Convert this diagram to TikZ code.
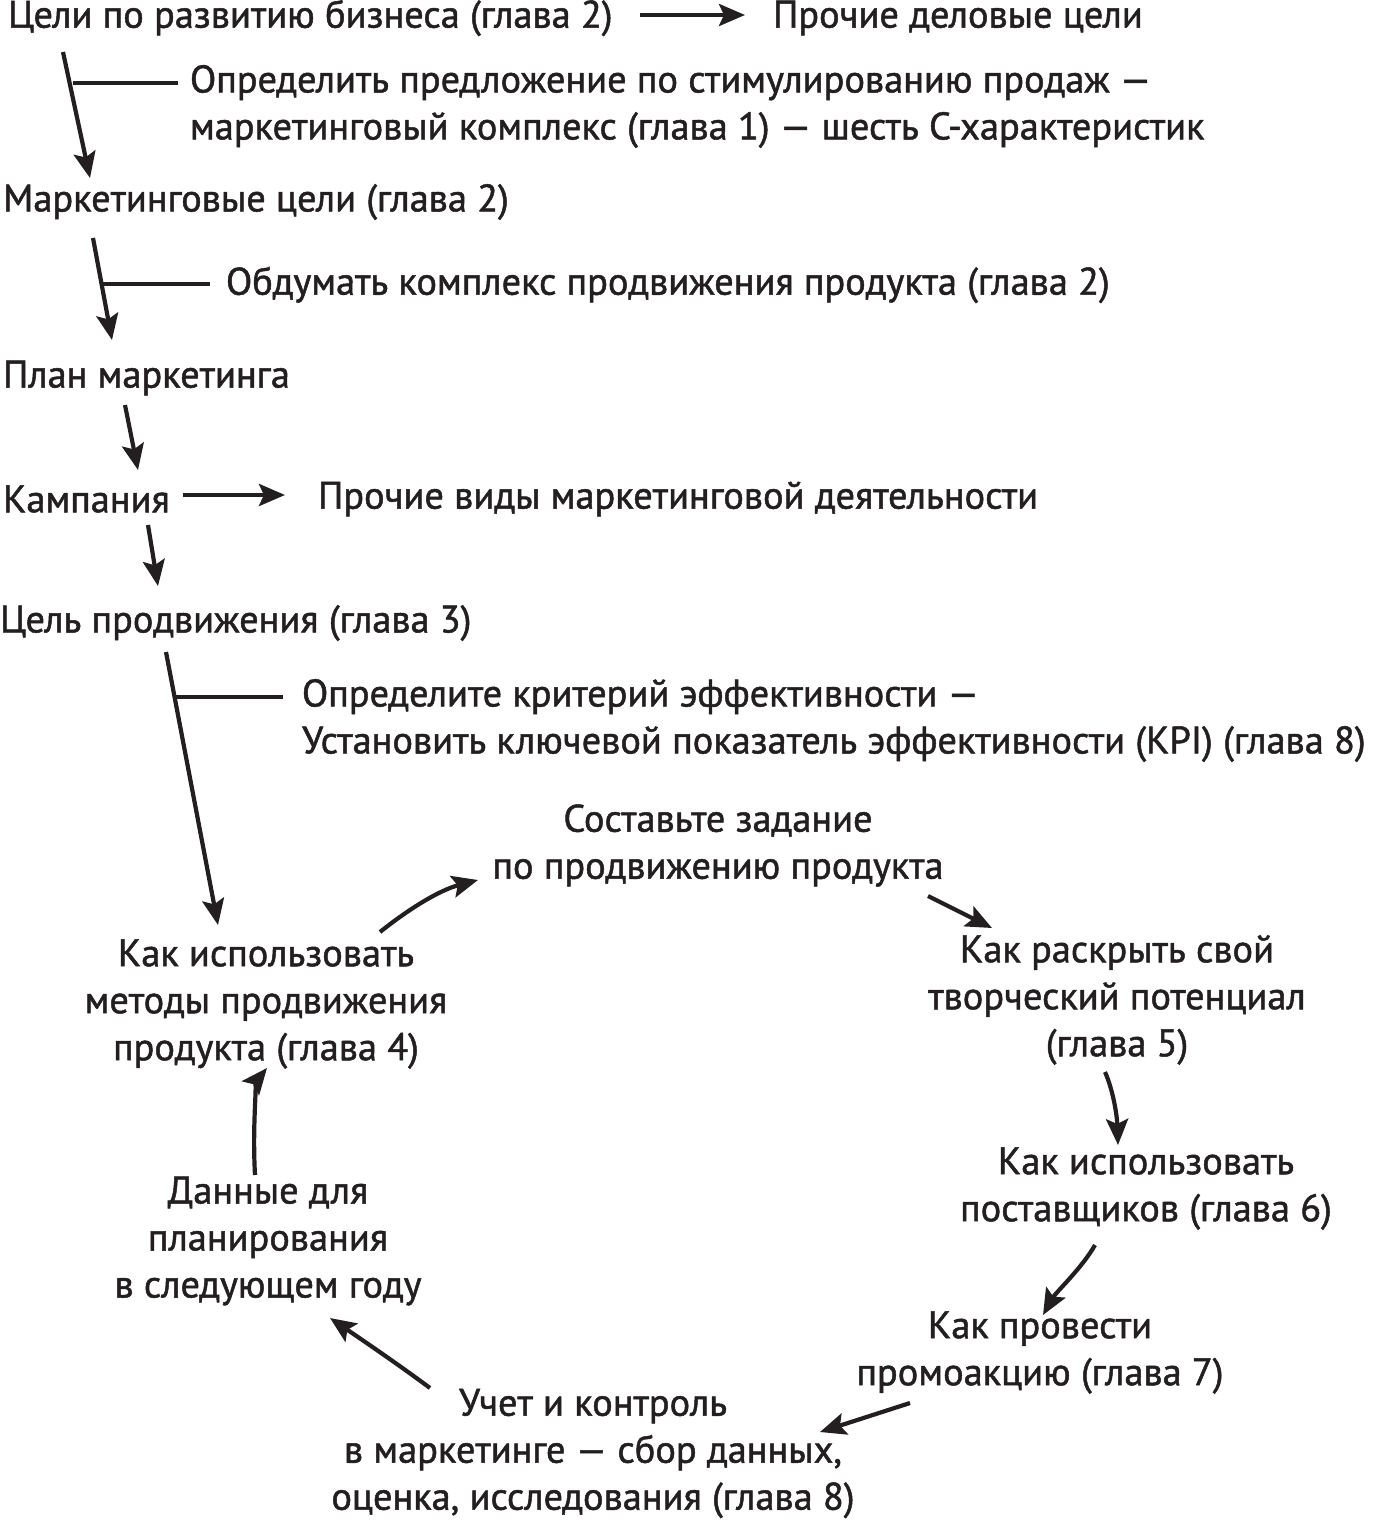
\documentclass[tikz,border=0pt]{standalone}
\usepackage{fontspec}
\setmainfont{PT Sans}[FakeBold=1.3]
\usetikzlibrary{arrows.meta,calc}
\definecolor{ink}{HTML}{231F20}
\newcommand{\dfont}{\fontsize{38.4}{47}\selectfont}
\begin{document}
\begin{tikzpicture}[x=1pt,y=-1pt,
  every node/.style={inner sep=0pt,outer sep=0pt,font=\dfont,text=ink},
  lft/.style={anchor=west,align=left},
  cyc/.style={anchor=center,align=center},
  arr/.style={draw=ink,line width=4.2pt,-{Stealth[length=26pt,width=22pt,inset=5pt]}},
  brl/.style={draw=ink,line width=4.2pt}]
\useasboundingbox (0,0) rectangle (1373,1520);
% left column
\node[lft] (n1) at (8,18) {Цели по развитию бизнеса (глава 2)};
\node[lft] (n2) at (773,18) {Прочие деловые цели};
\node[lft] (n3) at (190,106.5) {Определить предложение по стимулированию продаж —\\маркетинговый комплекс (глава 1) — шесть С-характеристик};
\node[lft] (n4) at (3,202) {Маркетинговые цели (глава 2)};
\node[lft] (n5) at (226,285) {Обдумать комплекс продвижения продукта (глава 2)};
\node[lft] (n6) at (3,378) {План маркетинга};
\node[lft] (n7) at (3,499) {Кампания};
\node[lft] (n8) at (318,499) {Прочие виды маркетинговой деятельности};
\node[lft] (n9) at (0,623) {Цель продвижения (глава 3)};
\node[lft] (n10) at (302,720.5) {Определите критерий эффективности —\\Установить ключевой показатель эффективности (KPI) (глава 8)};
% cycle
\node[cyc] (A) at (266,1004) {Как использовать\\методы продвижения\\продукта (глава 4)};
\node[cyc] (B) at (718,845.5) {Составьте задание\\по продвижению продукта};
\node[cyc] (C) at (1117,1000) {Как раскрыть свой\\творческий потенциал\\(глава 5)};
\node[cyc] (D) at (1146,1188.5) {Как использовать\\поставщиков (глава 6)};
\node[cyc] (E) at (1040,1352.5) {Как провести\\промоакцию (глава 7)};
\node[cyc] (F) at (593,1453.5) {Учет и контроль\\в маркетинге — сбор данных,\\оценка, исследования (глава 8)};
\node[cyc] (G) at (268,1241) {Данные для\\планирования\\в следующем году};
% connectors, left column
\draw[arr] ($(n1.west)+(632,-3)$) -- ($(n2.west)+(-28,-3)$);
\draw[arr] ($(n1.west)+(55,34)$) -- ($(n4.west)+(87,-24)$);
\draw[brl] ($(n3.west)+(-117,-23.5)$) -- ($(n3.west)+(-12,-23.5)$);
\draw[arr] ($(n4.west)+(90,36)$) -- ($(n6.west)+(109,-38)$);
\draw[brl] ($(n5.west)+(-123,-1)$) -- ($(n5.west)+(-16,-1)$);
\draw[arr] ($(n6.west)+(122,27)$) -- ($(n7.west)+(135,-29)$);
\draw[arr] ($(n7.west)+(180,-4)$) -- ($(n8.west)+(-33,-4)$);
\draw[arr] ($(n7.west)+(145,26)$) -- ($(n9.west)+(158,-37)$);
\draw[arr] ($(n9.west)+(166,29)$) -- ($(A.center)+(-48,-79)$);
\draw[brl] ($(n10.west)+(-127,-23.5)$) -- ($(n10.west)+(-19,-23.5)$);
% connectors, cycle
\draw[arr] ($(A.center)+(114,-72)$) .. controls ($(A.center)+(144,-96)$) and ($(B.center)+(-278,44.5)$) .. ($(B.center)+(-240,34.5)$);
\draw[arr] ($(B.center)+(210,50.5)$) -- ($(C.center)+(-125,-72)$);
\draw[arr] ($(C.center)+(-12,72)$) .. controls ($(C.center)+(-4,90)$) and ($(D.center)+(-29,-73.5)$) .. ($(D.center)+(-28,-43.5)$);
\draw[arr] ($(D.center)+(-51,56.5)$) .. controls ($(D.center)+(-64,79.5)$) and ($(E.center)+(16,-60.5)$) .. ($(E.center)+(3,-37.5)$);
\draw[arr] ($(E.center)+(-130,50.5)$) -- ($(F.center)+(227,-21.5)$);
\draw[arr] ($(F.center)+(-163,-65.5)$) .. controls ($(F.center)+(-198,-91.5)$) and ($(G.center)+(87,94)$) .. ($(G.center)+(62,77)$);
\draw[arr] ($(G.center)+(-13,-66)$) .. controls ($(G.center)+(-16,-120)$) and ($(A.center)+(-8,75)$) .. ($(A.center)+(1,64)$);
\end{tikzpicture}
\end{document}
